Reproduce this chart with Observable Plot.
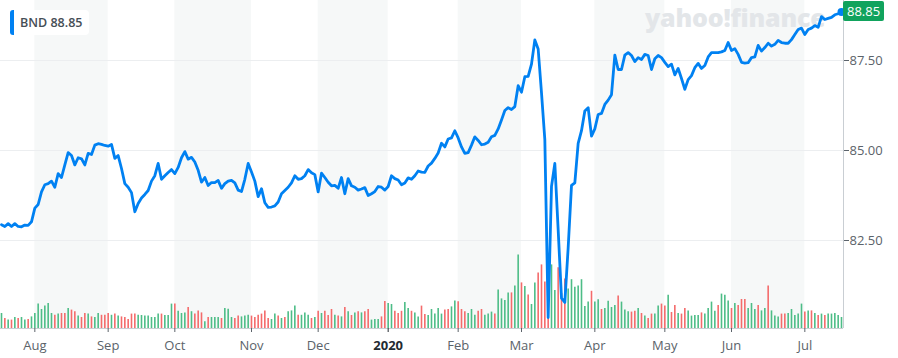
<!DOCTYPE html>
<html>
<head>
<meta charset="utf-8">
<script src="https://cdn.jsdelivr.net/npm/d3@7"></script>
<script src="https://cdn.jsdelivr.net/npm/@observablehq/plot@0.6"></script>
<style>
  html, body { margin: 0; padding: 0; background: #ffffff; }
  #wrap { position: relative; width: 898px; height: 358px; overflow: hidden; font-family: "Open Sans", sans-serif; }
  #wrap > .layer { position: absolute; left: 0; top: 0; }
  #watermark { position: absolute; left: 645px; top: 5px; font-size: 25px; line-height: 25px; font-weight: 800; color: #e3e6e9; letter-spacing: -0.2px; white-space: nowrap; }
  #legend { position: absolute; left: 10px; top: 10px; height: 25px; line-height: 25px; background: #ffffff; border-radius: 4px; padding: 0 7px 0 10px; font-size: 12.5px; font-weight: 600; color: #464e56; white-space: nowrap; }
  #legend .swatch { position: absolute; left: 0; top: 0; width: 4px; height: 25px; background: #0081f2; border-radius: 3px 0 0 3px; }
  #tag { position: absolute; height: 20px; line-height: 20px; padding: 0 4px; background: #11a35d; color: #ffffff; font-size: 13px; border-radius: 2px; white-space: nowrap; }
</style>
</head>
<body>
<div id="wrap"></div>
<script>
// ---------- data ----------
const ticker = "BND";
const monthLabels = ["Aug", "Sep", "Oct", "Nov", "Dec", "2020", "Feb", "Mar", "Apr", "May", "Jun", "Jul"];
// trading-day index of the first session of each month (18 Jul 2019 = 0)
const monthStart = [10, 32, 52, 75, 95, 116, 137, 156, 178, 199, 219, 241];
const priceTicks = [82.5, 85, 87.5];

const close = [
  82.94, 82.89, 82.97, 82.89, 82.97, 82.89, 82.88, 82.93, 82.92, 83.02,
  83.40, 83.50, 83.85, 84.05, 84.08, 84.15, 83.98, 84.36, 84.25, 84.60,
  84.94, 84.86, 84.60, 84.80, 84.77, 84.60, 84.92, 84.89, 85.15, 85.19,
  85.17, 85.14, 85.12, 85.17, 84.78, 84.86, 84.50, 84.08, 83.98, 83.83,
  83.30, 83.53, 83.68, 83.78, 83.89, 84.15, 84.30, 84.64, 84.20, 84.30,
  84.39, 84.47, 84.36, 84.53, 84.80, 84.97, 84.76, 84.81, 84.68, 84.45,
  84.12, 84.25, 84.03, 84.11, 84.11, 84.17, 83.95, 84.08, 84.15, 84.17,
  84.10, 83.90, 83.86, 84.20, 84.64, 84.40, 84.15, 83.72, 83.94, 83.55,
  83.42, 83.43, 83.46, 83.57, 83.80, 83.89, 83.98, 84.10, 84.30, 84.20,
  84.22, 84.30, 84.47, 84.38, 84.33, 83.85, 84.37, 84.25, 84.12, 84.02,
  84.03, 83.95, 84.25, 83.80, 84.22, 84.02, 83.98, 83.90, 83.93, 83.97,
  83.75, 83.80, 83.86, 84.00, 83.98, 83.90, 84.00, 84.30, 84.22, 84.18,
  84.05, 84.10, 84.24, 84.20, 84.30, 84.43, 84.40, 84.39, 84.57, 84.65,
  84.78, 84.93, 85.20, 85.10, 85.32, 85.35, 85.55, 85.35, 85.10, 84.92,
  84.94, 85.15, 85.38, 85.28, 85.16, 85.18, 85.23, 85.38, 85.42, 85.60,
  85.85, 86.11, 86.19, 86.14, 86.22, 86.80, 86.62, 87.05, 87.06, 87.40,
  88.07, 87.82, 86.60, 85.30, 80.36, 84.00, 84.64, 82.80, 80.90, 80.78,
  82.30, 84.03, 84.10, 85.20, 85.55, 86.10, 86.19, 85.40, 85.60, 86.00,
  86.03, 86.28, 86.40, 86.55, 87.65, 87.25, 87.25, 87.65, 87.72, 87.64,
  87.47, 87.58, 87.53, 87.67, 87.64, 87.25, 87.55, 87.64, 87.58, 87.45,
  87.33, 87.40, 87.10, 87.28, 87.00, 86.70, 86.97, 87.08, 87.30, 87.42,
  87.28, 87.36, 87.60, 87.72, 87.72, 87.72, 87.74, 87.78, 88.00, 87.78,
  87.83, 87.67, 87.45, 87.43, 87.44, 87.58, 87.60, 87.92, 87.76, 87.86,
  87.98, 87.90, 87.95, 88.06, 88.00, 87.98, 87.98, 88.08, 88.22, 88.36,
  88.40, 88.22, 88.36, 88.40, 88.47, 88.42, 88.72, 88.64, 88.67, 88.70,
  88.77, 88.80, 88.85
];

// volume, millions of shares
const volume = [
  3.75, 2.5, 2.1, 2.1, 2.75, 2.5, 2.75, 2.1, 2.25, 2.9,
  3.75, 6.1, 4.75, 5.6, 6.25, 3.75, 3.3, 3.6, 3.75, 3.75,
  5.0, 4.6, 4.2, 3.1, 2.75, 3.75, 3.6, 2.9, 2.75, 3.75,
  3.3, 3.3, 3.75, 3.3, 3.6, 3.1, 2.9, 2.75, 2.25, 3.6,
  3.6, 3.3, 3.25, 3.1, 3.1, 2.75, 2.75, 3.6, 3.6, 3.25,
  3.25, 6.1, 6.1, 4.3, 3.75, 3.9, 5.25, 4.2, 3.6, 4.4,
  3.9, 1.7, 2.75, 2.75, 2.75, 2.75, 2.5, 5.0, 4.8, 2.75,
  2.5, 3.1, 2.9, 3.1, 3.3, 3.1, 2.75, 3.3, 3.6, 4.4,
  2.5, 2.25, 3.6, 3.1, 2.5, 2.75, 4.2, 4.4, 5.6, 3.3,
  3.3, 3.9, 3.3, 2.5, 2.75, 4.3, 3.75, 4.3, 3.25, 4.75,
  3.3, 3.1, 2.9, 5.25, 4.2, 3.25, 3.9, 4.2, 3.9, 4.2,
  4.75, 2.1, 2.25, 2.25, 2.9, 6.75, 6.25, 6.0, 4.3, 3.75,
  4.3, 6.5, 5.0, 4.3, 3.9, 2.9, 5.6, 3.5, 3.25, 4.75,
  3.6, 5.0, 3.6, 4.6, 4.75, 5.4, 6.9, 6.7, 4.75, 4.2,
  3.75, 4.75, 3.3, 4.3, 4.75, 3.3, 3.6, 4.1, 3.6, 9.6,
  7.4, 7.0, 8.9, 8.9, 10.6, 18.4, 11.4, 10.5, 8.4, 6.0,
  11.4, 13.9, 15.9, 11.6, 18.8, 15.9, 9.5, 15.2, 8.75, 12.4,
  9.9, 12.2, 10.3, 10.6, 12.2, 5.5, 6.6, 9.3, 6.6, 7.2,
  4.75, 5.0, 6.8, 5.25, 5.75, 8.1, 6.6, 4.6, 4.2, 4.1,
  4.3, 5.0, 3.75, 3.1, 2.5, 3.6, 3.6, 5.6, 6.1, 5.6,
  8.3, 4.0, 5.75, 3.75, 3.6, 5.0, 4.4, 3.1, 3.25, 3.25,
  3.9, 3.6, 5.0, 6.6, 4.3, 5.75, 8.6, 8.3, 6.9, 5.0,
  6.25, 5.75, 7.25, 7.25, 5.0, 6.25, 4.75, 5.75, 4.4, 5.0,
  10.6, 4.4, 3.1, 2.9, 3.6, 3.6, 3.75, 4.75, 3.25, 3.6,
  6.1, 4.1, 4.4, 4.4, 3.75, 3.25, 3.6, 3.25, 3.6, 3.6,
  3.75, 3.25, 2.75
];

// session direction: g = closed up, r = closed down
const direction =
  "grgrgrggrg" + "ggggggrgrr" + "grrgrrgrgg" + "rrrgrgrrrr" + "rgggggggrg" +
  "ggrgggrgrr" + "rgrgggrggg" + "rrgggrrrrr" + "rggrgrgggr" +
  "gggrgrgrrr" + "grgrgrgrgr" + "rgggrrggrr" + "rggrggrrgg" + "gggrrggrrr" + "gggrrgggrg" +
  "gggrggrgrg" + "grrrrggrrr" + "gggggggrgg" +
  "rggggrgggr" + "rgrgrrggrr" + "grrgrrgggg" + "rggggrgggr" + "grrrgggrgg" + "rgggrrgggg" + "grgrgrgrgg" +
  "ggg";

// ---------- build ----------
const W = 898, H = 358, MR = 55, MB = 30;
const days = close.map((c, i) => ({ i, close: c, volume: volume[i], up: direction[i] === "g" }));
const last = days[days.length - 1];
const xDomain = [-0.3, days.length - 1 + 0.6];
const yDomain = [80.056, 89.167];

const bands = monthStart
  .map((s, k) => ({ k, start: s, end: k + 1 < monthStart.length ? monthStart[k + 1] : xDomain[1] }))
  .filter(d => d.k % 2 === 0);

const common = {
  width: W, height: H,
  marginLeft: 0, marginRight: MR, marginTop: 0, marginBottom: MB
};

const volPlot = Plot.plot({
  ...common,
  style: { background: "transparent" },
  x: { domain: xDomain, axis: null },
  y: { domain: [0, 82], axis: null },
  marks: [
    Plot.rect(bands, { x1: "start", x2: "end", fill: "#f6f8f8" }),
    Plot.ruleX(days.filter(d => d.up), { x: "i", y1: 0, y2: "volume", stroke: "#4dbd87", strokeWidth: 1.6 }),
    Plot.ruleX(days.filter(d => !d.up), { x: "i", y1: 0, y2: "volume", stroke: "#f46b6b", strokeWidth: 1.6 })
  ]
});

const plainIdx = monthStart.filter((d, k) => monthLabels[k] !== "2020");
const yearIdx = monthStart.filter((d, k) => monthLabels[k] === "2020");
const labelOf = i => monthLabels[monthStart.indexOf(i)];

const pricePlot = Plot.plot({
  ...common,
  style: { background: "transparent", fontFamily: "'Open Sans', sans-serif", fontSize: "13px" },
  x: { domain: xDomain },
  y: { domain: yDomain },
  marks: [
    Plot.ruleY(priceTicks, { stroke: "#eceef0", strokeWidth: 1 }),
    Plot.ruleY([yDomain[0]], { stroke: "#c9ced3" }),
    Plot.ruleX([xDomain[1]], { stroke: "#c9ced3" }),
    Plot.axisY(priceTicks, {
      anchor: "right", tickFormat: d => d.toFixed(2), tickSize: 5, tickPadding: 1,
      color: "#5b636a", fontSize: 13, label: null
    }),
    Plot.axisX(plainIdx, {
      tickFormat: labelOf, tickSize: 4, tickPadding: 8, color: "#5b636a", fontSize: 13, label: null
    }),
    Plot.axisX(yearIdx, {
      tickFormat: labelOf, tickSize: 4, tickPadding: 8, color: "#232a31", fontWeight: "bold", fontSize: 13, label: null
    }),
    Plot.line(days, { x: "i", y: "close", stroke: "#0081f2", strokeWidth: 2.8, strokeLinejoin: "round", strokeLinecap: "round" }),
    Plot.dot([last], { x: "i", y: "close", r: 4, fill: "#0081f2" })
  ]
});

const wrap = document.getElementById("wrap");
volPlot.classList.add("layer");
pricePlot.classList.add("layer");
wrap.appendChild(volPlot);

const wm = document.createElement("div");
wm.id = "watermark";
wm.textContent = "yahoo!finance";
wrap.appendChild(wm);

wrap.appendChild(pricePlot);

const legend = document.createElement("div");
legend.id = "legend";
legend.innerHTML = `<span class="swatch"></span>${ticker} ${last.close.toFixed(2)}`;
wrap.appendChild(legend);

const tag = document.createElement("div");
tag.id = "tag";
tag.textContent = last.close.toFixed(2);
const ty = pricePlot.scale("y").apply(last.close);
const tx = pricePlot.scale("x").apply(xDomain[1]);
tag.style.left = tx + "px";
tag.style.top = (ty - 10) + "px";
wrap.appendChild(tag);
</script>
</body>
</html>
